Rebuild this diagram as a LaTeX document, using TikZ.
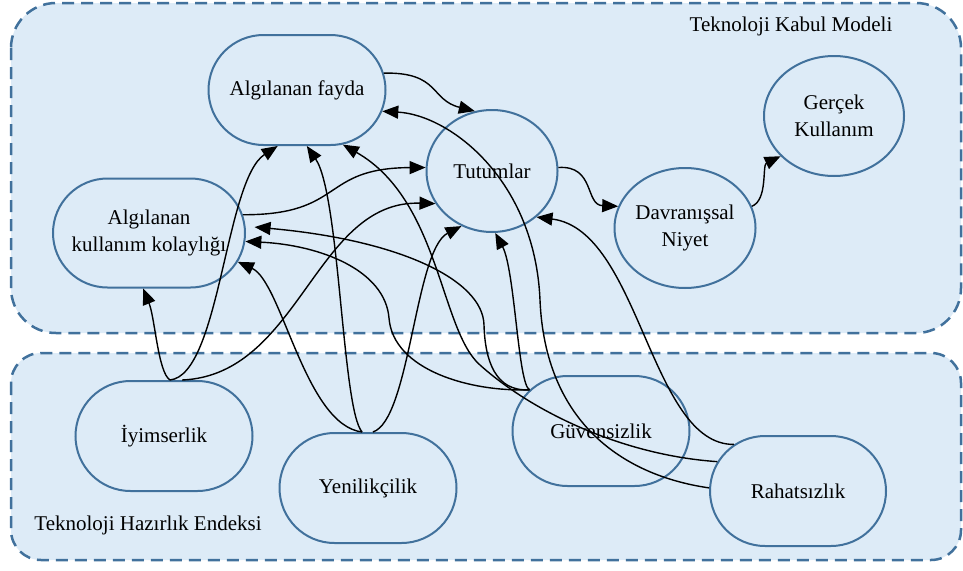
\documentclass[tikz,border=0pt]{standalone}
\usepackage{fontspec}
\setmainfont{Liberation Serif}
\usetikzlibrary{shapes.misc,shapes.geometric,arrows.meta}
\definecolor{tkfill}{HTML}{DDEBF7}
\definecolor{tkline}{HTML}{41719C}

\begin{document}
\begin{tikzpicture}[x=1pt,y=-1pt,font=\fontsize{21}{27}\selectfont,
  panel/.style={draw=tkline,fill=tkfill,line width=2.5pt,dash pattern=on 12pt off 7pt},
  pill/.style={rounded rectangle,draw=tkline,fill=tkfill,line width=2pt,inner xsep=-60pt,inner ysep=0pt,minimum width=57pt,minimum height=110pt,align=center},
  oval/.style={ellipse,draw=tkline,fill=tkfill,line width=2pt,inner sep=0pt,align=center},
  arr/.style={line width=1.4pt,-{Triangle[length=16pt,width=13pt]}}]
\useasboundingbox (0,0) rectangle (963,570);

\draw[panel,rounded corners=45pt] (11,3) rectangle (961,333);
\draw[panel,rounded corners=30pt] (11,353) rectangle (961,560);
\node (tkm) at (791,26) {Teknoloji Kabul Modeli};
\node (the) at (148,525) {Teknoloji Hazırlık Endeksi};

\node[pill] (af) at (297,90) {Algılanan fayda};
\node[pill,minimum width=72pt,minimum height=109pt] (akk) at (149,233) {Algılanan\\kullanım kolaylığı};
\node[oval,minimum width=131pt,minimum height=122pt] (tut) at (492,171) {Tutumlar};
\node[oval,minimum width=141pt,minimum height=120pt] (dn) at (685,228) {Davranışsal\\Niyet};
\node[oval,minimum width=140pt,minimum height=120pt] (gk) at (834,116) {Gerçek\\Kullanım};

\node[pill] (iy) at (164,436) {İyimserlik};
\node[pill] (yen) at (368,488) {Yenilikçilik};
\node[pill] (guv) at (601,431) {Güvensizlik};
\node[pill,minimum width=56pt] (rah) at (798,491) {Rahatsızlık};

\draw[arr] (af.11) .. controls (440,72) and (430,100) .. (tut.106);
\draw[arr] (tut.3) .. controls (595,165) and (585,205) .. (dn.162);
\draw[arr] (dn.18) .. controls (768,200) and (762,165) .. (gk.217);
\draw[arr] (akk.11) .. controls (345,215) and (320,168) .. (tut.177);

\draw[arr] (iy.84) .. controls (158,372) and (155,318) .. (akk.264);
\draw[arr] (iy.84) .. controls (220,375) and (225,180) .. (af.251);
\draw[arr] (iy.72) .. controls (300,375) and (315,200) .. (tut.210);

\draw[arr] (yen.96) .. controls (305,425) and (282,282) .. (akk.-18);
\draw[arr] (yen.96) .. controls (342,410) and (340,195) .. (af.-80);
\draw[arr] (yen.85) .. controls (410,420) and (415,250) .. (tut.241);

\draw[arr,shorten >=9pt] (guv.150) .. controls (495,392) and (485,360) .. (484,325) .. controls (483,280) and (400,240) .. (akk.4);
\draw[arr] (guv.150) .. controls (470,392) and (393,370) .. (389,318) .. controls (385,270) and (320,245) .. (akk.-5);
\draw[arr] (guv.150) .. controls (518,385) and (515,270) .. (tut.273);

\draw[arr] (rah.144) .. controls (650,445) and (640,230) .. (tut.314);
\draw[arr] (rah.160) .. controls (620,455) and (530,410) .. (480,365) .. controls (440,330) and (440,200) .. (af.310);
\draw[arr] (rah.178) .. controls (620,475) and (545,420) .. (540,300) .. controls (535,180) and (450,115) .. (af.-14);
\end{tikzpicture}
\end{document}
